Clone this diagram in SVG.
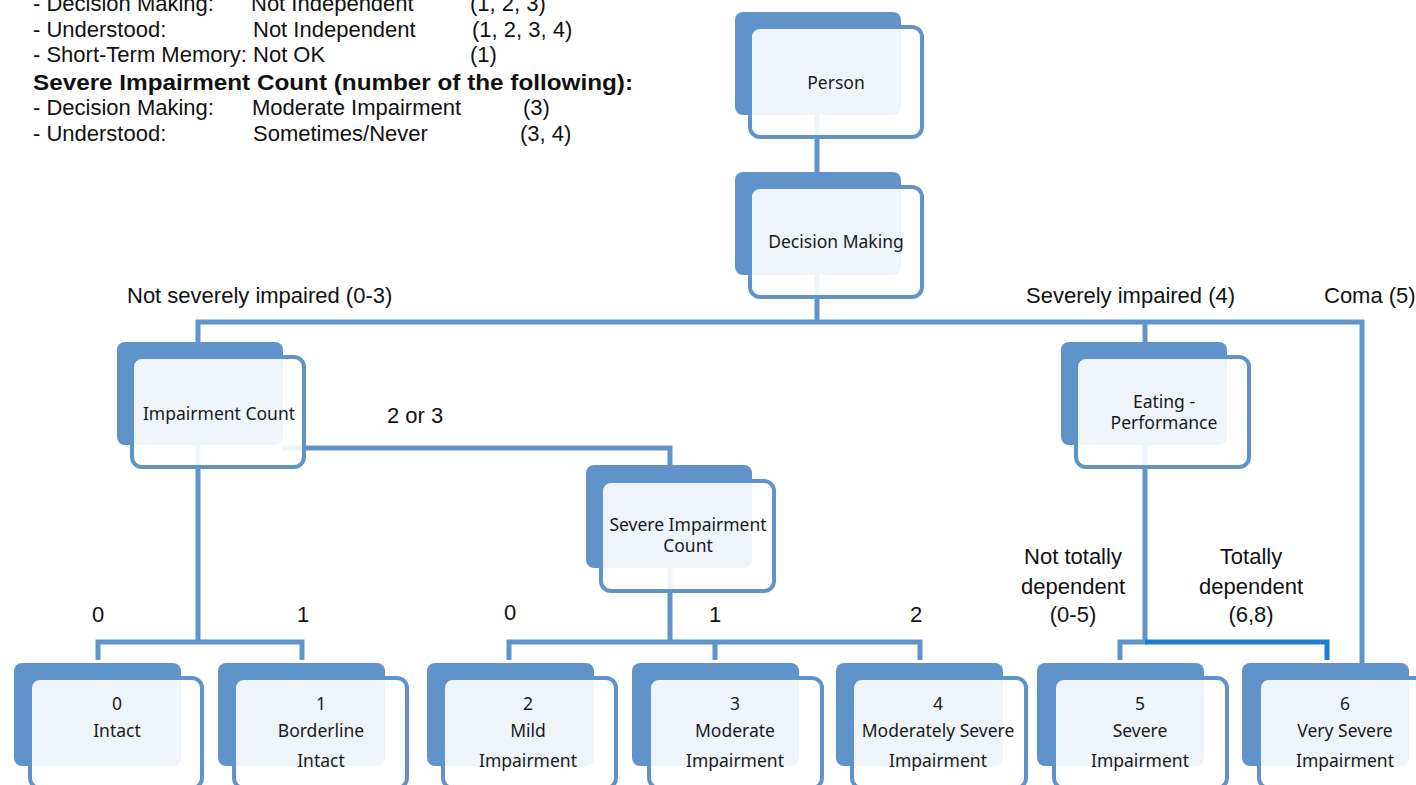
<svg xmlns="http://www.w3.org/2000/svg" width="1416" height="785" viewBox="0 0 1416 785">
<style>
.bk{fill:#5f93c9}
.fr{fill:#ffffff;fill-opacity:0.9;stroke:#5f93c9;stroke-width:4}
.nt{font-family:"Noto Sans","Open Sans",sans-serif;font-size:17.5px;fill:#1a1a1a;text-anchor:middle}
.lb{font-family:"Liberation Sans",Arial,sans-serif;font-size:22px;fill:#111}
.lc{font-family:"Liberation Sans",Arial,sans-serif;font-size:22px;fill:#111;text-anchor:middle}
.c{fill:none;stroke:#5f93c9;stroke-width:5}
.cb{fill:none;stroke:#1a7fd2;stroke-width:5}
</style>
<rect width="1416" height="785" fill="#ffffff"/>
<g id="legend">
<text class="lb" x="33" y="11">- Decision Making:</text><text class="lb" x="251" y="11">Not Independent</text><text class="lb" x="470" y="11">(1, 2, 3)</text>
<text class="lb" x="33" y="37">- Understood:</text><text class="lb" x="253" y="37">Not Independent</text><text class="lb" x="472" y="37">(1, 2, 3, 4)</text>
<text class="lb" x="33" y="62">- Short-Term Memory: Not OK</text><text class="lb" x="470" y="62">(1)</text>
<text class="lb" x="33" y="90" font-weight="bold" textLength="600" lengthAdjust="spacingAndGlyphs">Severe Impairment Count (number of the following):</text>
<text class="lb" x="33" y="115">- Decision Making:</text><text class="lb" x="252" y="115">Moderate Impairment</text><text class="lb" x="523" y="115">(3)</text>
<text class="lb" x="33" y="141">- Understood:</text><text class="lb" x="253" y="141">Sometimes/Never</text><text class="lb" x="520" y="141">(3, 4)</text>
</g>
<g id="connectors">
<path class="c" d="M817 115V172"/>
<path class="c" d="M817 275V322"/>
<path class="c" d="M198 342V322H1362V663"/>
<path class="c" d="M1145 322V342"/>
<path class="c" d="M283 448H670V465"/>
<path class="c" d="M198 445V642"/>
<path class="c" d="M98 660V642H302V660"/>
<path class="c" d="M670 568V642"/>
<path class="c" d="M509 660V642H920V660"/>
<path class="c" d="M715 642V660"/>
<path class="c" d="M1145 445V642"/>
<path class="c" d="M1120 660V642H1147"/>
<path class="cb" d="M1145 642H1327V660"/>
</g>
<g id="edge-labels">
<text class="lb" x="127" y="303">Not severely impaired (0-3)</text>
<text class="lb" x="1026" y="303">Severely impaired (4)</text>
<text class="lb" x="1324" y="303">Coma (5)</text>
<text class="lb" x="387" y="423">2 or 3</text>
<text class="lc" x="98" y="622">0</text>
<text class="lc" x="303" y="622">1</text>
<text class="lc" x="510" y="620">0</text>
<text class="lc" x="715" y="622">1</text>
<text class="lc" x="916" y="622">2</text>
<text class="lc" x="1073" y="564">Not totally</text>
<text class="lc" x="1073" y="594">dependent</text>
<text class="lc" x="1073" y="622">(0-5)</text>
<text class="lc" x="1251" y="564">Totally</text>
<text class="lc" x="1251" y="594">dependent</text>
<text class="lc" x="1251" y="622">(6,8)</text>
</g>
<g id="node-person"><rect class="bk" x="735" y="12" width="166" height="103" rx="8"/><rect class="fr" x="750" y="27" width="172" height="110" rx="10"/><text class="nt" x="836" y="89">Person</text></g>
<g id="node-decision"><rect class="bk" x="735" y="172" width="166" height="103" rx="8"/><rect class="fr" x="750" y="187" width="172" height="110" rx="10"/><text class="nt" x="836" y="248">Decision Making</text></g>
<g id="node-impairment"><rect class="bk" x="117" y="342" width="166" height="103" rx="8"/><rect class="fr" x="132" y="357" width="172" height="110" rx="10"/><text class="nt" x="219" y="420">Impairment Count</text></g>
<g id="node-severe-count"><rect class="bk" x="586" y="465" width="166" height="103" rx="8"/><rect class="fr" x="601" y="481" width="173" height="110" rx="10"/><text class="nt" x="688" y="531" font-size="17">Severe Impairment</text><text class="nt" x="688" y="552" font-size="17">Count</text></g>
<g id="node-eating"><rect class="bk" x="1061" y="342" width="166" height="103" rx="8"/><rect class="fr" x="1076" y="357" width="173" height="110" rx="10"/><text class="nt" x="1164" y="408" font-size="17">Eating -</text><text class="nt" x="1164" y="429" font-size="17">Performance</text></g>
<g id="node-0"><rect class="bk" x="14" y="663" width="167" height="103" rx="8"/><rect class="fr" x="30" y="678" width="172" height="110" rx="10"/><text class="nt" x="117" y="710">0</text><text class="nt" x="117" y="737">Intact</text></g>
<g id="node-1"><rect class="bk" x="218" y="663" width="167" height="103" rx="8"/><rect class="fr" x="234" y="678" width="173" height="110" rx="10"/><text class="nt" x="321" y="710">1</text><text class="nt" x="321" y="737">Borderline</text><text class="nt" x="321" y="767">Intact</text></g>
<g id="node-2"><rect class="bk" x="427" y="663" width="167" height="103" rx="8"/><rect class="fr" x="443" y="678" width="173" height="110" rx="10"/><text class="nt" x="528" y="710">2</text><text class="nt" x="528" y="737">Mild</text><text class="nt" x="528" y="767">Impairment</text></g>
<g id="node-3"><rect class="bk" x="632" y="663" width="167" height="103" rx="8"/><rect class="fr" x="649" y="678" width="173" height="110" rx="10"/><text class="nt" x="735" y="710">3</text><text class="nt" x="735" y="737">Moderate</text><text class="nt" x="735" y="767">Impairment</text></g>
<g id="node-4"><rect class="bk" x="836" y="663" width="167" height="103" rx="8"/><rect class="fr" x="852" y="678" width="174" height="110" rx="10"/><text class="nt" x="938" y="710">4</text><text class="nt" x="938" y="737">Moderately Severe</text><text class="nt" x="938" y="767">Impairment</text></g>
<g id="node-5"><rect class="bk" x="1037" y="663" width="167" height="103" rx="8"/><rect class="fr" x="1054" y="678" width="173" height="110" rx="10"/><text class="nt" x="1140" y="710">5</text><text class="nt" x="1140" y="737">Severe</text><text class="nt" x="1140" y="767">Impairment</text></g>
<g id="node-6"><rect class="bk" x="1242" y="663" width="167" height="103" rx="8"/><rect class="fr" x="1259" y="678" width="173" height="110" rx="10"/><text class="nt" x="1345" y="710">6</text><text class="nt" x="1345" y="737">Very Severe</text><text class="nt" x="1345" y="767">Impairment</text></g>
</svg>
